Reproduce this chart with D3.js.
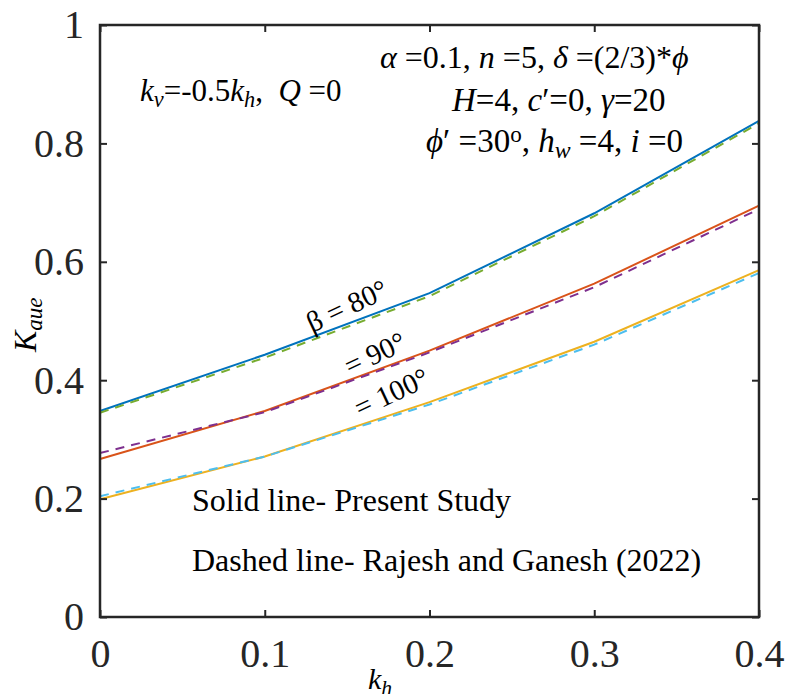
<!DOCTYPE html>
<html>
<head>
<meta charset="utf-8">
<script src="https://cdn.jsdelivr.net/npm/d3@7"></script>
<style>
  body { margin: 0; background: #fff; }
  svg text { font-family: "Liberation Serif", "Times New Roman", serif; }
</style>
</head>
<body>
<div id="chart"></div>
<script>
// Données
const kh = [0, 0.1, 0.2, 0.3, 0.4];
const beta80Present = [0.348, 0.443, 0.547, 0.682, 0.838];
const beta80Rajesh  = [0.345, 0.438, 0.542, 0.677, 0.834];
const beta90Present = [0.267, 0.348, 0.450, 0.563, 0.695];
const beta90Rajesh  = [0.277, 0.346, 0.447, 0.557, 0.689];
const beta100Present = [0.199, 0.271, 0.363, 0.465, 0.586];
const beta100Rajesh  = [0.204, 0.271, 0.359, 0.460, 0.581];
const xTicks = [0, 0.1, 0.2, 0.3, 0.4];
const yTicks = [0, 0.2, 0.4, 0.6, 0.8, 1];

const series = [
  { values: beta80Present, color: "#0072BD", dashed: false },
  { values: beta80Rajesh, color: "#77AC30", dashed: true },
  { values: beta90Present, color: "#D95319", dashed: false },
  { values: beta90Rajesh, color: "#7E2F8E", dashed: true },
  { values: beta100Present, color: "#EDB120", dashed: false },
  { values: beta100Rajesh, color: "#4DBEEE", dashed: true }
];

const W = 787, H = 694;
const margin = { top: 25, right: 28, bottom: 77, left: 100 };
const width = W - margin.left - margin.right;
const height = H - margin.top - margin.bottom;
const axisColor = "#262626";

const svg = d3.select("#chart").append("svg")
  .attr("width", W).attr("height", H);
const g = svg.append("g").attr("transform", `translate(${margin.left},${margin.top})`);

const x = d3.scaleLinear().domain([0, 0.4]).range([0, width]);
const y = d3.scaleLinear().domain([0, 1]).range([height, 0]);

// Courbes
const line = d3.line().x((d, i) => x(kh[i])).y(d => y(d));
series.forEach(s => {
  g.append("path")
    .datum(s.values)
    .attr("d", line)
    .attr("fill", "none")
    .attr("stroke", s.color)
    .attr("stroke-width", 2)
    .attr("stroke-dasharray", s.dashed ? "9 7" : null);
});

// Axes (graduations vers l'intérieur, sur les 4 côtés)
function styleAxis(sel) {
  sel.select(".domain").remove();
  sel.selectAll(".tick line").attr("stroke", axisColor).attr("stroke-width", 2);
  sel.selectAll(".tick text").attr("fill", axisColor).style("font-size", "40px")
    .style("font-family", "'Liberation Serif', serif");
}
const fmt = d => d === 0 ? "0" : d === 1 ? "1" : d3.format(".1f")(d);

g.append("g").attr("transform", `translate(0,${height})`)
  .call(d3.axisBottom(x).tickValues(xTicks).tickFormat(fmt).tickSizeInner(-7).tickSizeOuter(0).tickPadding(22))
  .call(styleAxis);
g.append("g")
  .call(d3.axisTop(x).tickValues(xTicks).tickFormat("").tickSizeInner(-7).tickSizeOuter(0))
  .call(styleAxis);
g.append("g")
  .call(d3.axisLeft(y).tickValues(yTicks).tickFormat(fmt).tickSizeInner(-7).tickSizeOuter(0).tickPadding(16))
  .call(styleAxis);
g.append("g").attr("transform", `translate(${width},0)`)
  .call(d3.axisRight(y).tickValues(yTicks).tickFormat("").tickSizeInner(-7).tickSizeOuter(0))
  .call(styleAxis);

g.append("rect")
  .attr("width", width).attr("height", height)
  .attr("fill", "none").attr("stroke", axisColor).attr("stroke-width", 2.5);

// Texte riche: [texte, italique, décalage]
function rich(parent, xPos, yPos, parts, size) {
  const t = parent.append("text").attr("x", xPos).attr("y", yPos)
    .style("font-size", size + "px").attr("fill", "#000");
  parts.forEach(p => {
    const ts = t.append("tspan").text(p[0]);
    if (p[1]) ts.style("font-style", "italic");
    if (p[2] === "sub") ts.attr("baseline-shift", "-25%").style("font-size", (size * 0.72) + "px");
    if (p[2] === "sup") ts.attr("baseline-shift", "45%").style("font-size", (size * 0.7) + "px");
  });
  return t;
}

rich(svg, 140, 101, [["k", 1], ["v", 1, "sub"], ["=-0.5"], ["k", 1], ["h", 1, "sub"], [",\u00a0\u00a0"], ["Q", 1], ["\u00a0=0"]], 31);

rich(svg, 380, 68, [["\u03b1", 1], ["\u00a0=0.1, "], ["n", 1], ["\u00a0=5, "], ["\u03b4", 1], ["\u00a0=(2/3)*"], ["\u03d5", 1]], 32);
rich(svg, 452, 111, [["H", 1], ["=4, "], ["c", 1], ["\u2032=0, "], ["\u03b3", 1], ["=20"]], 33);
rich(svg, 426, 152, [["\u03d5", 1], ["\u2032\u00a0=30"], ["o", 0, "sup"], [", "], ["h", 1], ["w", 1, "sub"], ["\u00a0=4, "], ["i", 1], ["\u00a0=0"]], 33);

// Étiquettes des courbes
function curveLabel(txt, xPos, yPos) {
  svg.append("text")
    .attr("transform", `translate(${xPos},${yPos}) rotate(-25)`)
    .style("font-size", "29px").text(txt);
}
curveLabel("\u03b2 = 80\u00b0", 312, 333);
curveLabel("= 90\u00b0", 350, 376);
curveLabel("= 100\u00b0", 360, 418);

// Légende textuelle
svg.append("text").attr("x", 192).attr("y", 511).style("font-size", "32px").text("Solid line- Present Study");
svg.append("text").attr("x", 192).attr("y", 571).style("font-size", "32px").text("Dashed line- Rajesh and Ganesh (2022)");

// Titres des axes
rich(svg, 368, 689, [["k", 1], ["h", 1, "sub"]], 30);
const yl = svg.append("g").attr("transform", "translate(36,352) rotate(-90)");
rich(yl, 0, 0, [["K", 1], ["aue", 1, "sub"]], 32);
</script>
</body>
</html>
